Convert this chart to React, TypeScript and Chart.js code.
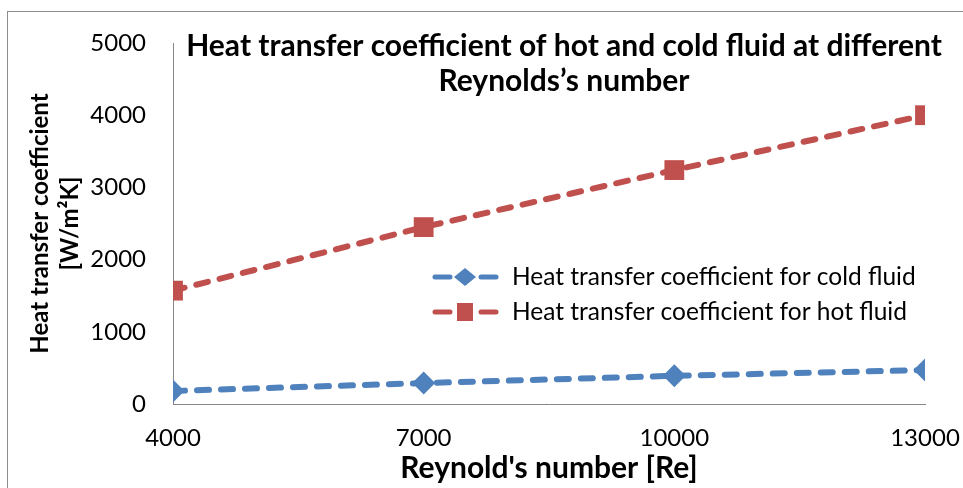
import React, { useEffect, useRef } from "react";
import { Chart, registerables } from "chart.js";

Chart.register(...registerables);

const reynolds = [4000, 7000, 10000, 13000];
const coldValues = [180, 290, 390, 470];
const hotValues = [1570, 2450, 3240, 4000];
const xTicks = [4000, 7000, 10000, 13000];
const yTicks = [0, 1000, 2000, 3000, 4000, 5000];
const seriesNames = [
  "Heat transfer coefficient for cold fluid",
  "Heat transfer coefficient for hot fluid",
];
const titleLines = [
  "Heat transfer coefficient of hot and cold fluid at different",
  "Reynolds\u2019s number",
];
const yTitle = ["Heat transfer coefficient", "[W/m\u00B2K]"];
const xTitle = "Reynold's number [Re]";

const BLUE = "#4F81BD";
const RED = "#C0504D";
const FONT = "Lato";

const overlayPlugin = {
  id: "overlay",
  afterDraw(chart: any) {
    const ctx = chart.ctx as CanvasRenderingContext2D;
    const area = chart.chartArea;
    ctx.save();
    // title
    ctx.fillStyle = "#000";
    ctx.font = `bold 30px ${FONT}`;
    ctx.textAlign = "center";
    ctx.textBaseline = "middle";
    const cx = 564;
    ctx.fillText(titleLines[0], cx, area.top + 3);
    ctx.fillText(titleLines[1], cx, area.top + 38);

    // legend
    const rows = [
      { name: seriesNames[0], color: BLUE, shape: "diamond" },
      { name: seriesNames[1], color: RED, shape: "square" },
    ];
    const lx = 433;
    rows.forEach((r, i) => {
      const y = 277 + i * 35;
      ctx.strokeStyle = r.color;
      ctx.lineWidth = 5;
      ctx.lineCap = "round";
      ctx.beginPath();
      ctx.moveTo(lx + 2, y);
      ctx.lineTo(lx + 17, y);
      ctx.moveTo(lx + 48, y);
      ctx.lineTo(lx + 63, y);
      ctx.stroke();
      ctx.fillStyle = r.color;
      const mx = lx + 32;
      ctx.beginPath();
      if (r.shape === "diamond") {
        ctx.moveTo(mx, y - 9);
        ctx.lineTo(mx + 11, y);
        ctx.lineTo(mx, y + 9);
        ctx.lineTo(mx - 11, y);
        ctx.closePath();
      } else {
        ctx.rect(mx - 8, y - 9, 16, 18);
      }
      ctx.fill();
      ctx.fillStyle = "#000";
      ctx.font = `24.5px ${FONT}`;
      ctx.textAlign = "left";
      ctx.textBaseline = "middle";
      ctx.fillText(r.name, 512, y);
    });
    ctx.restore();
  },
};

export default function App() {
  const canvasRef = useRef<HTMLCanvasElement | null>(null);

  useEffect(() => {
    if (!canvasRef.current) return;
    const chart = new Chart(canvasRef.current, {
      type: "line",
      data: {
        datasets: [
          {
            label: seriesNames[0],
            data: reynolds.map((x, i) => ({ x, y: coldValues[i] })),
            borderColor: BLUE,
            backgroundColor: BLUE,
            borderWidth: 6,
            borderDash: [12, 12],
            borderCapStyle: "round",
            pointStyle: "rectRot",
            pointRadius: 11.5,
            pointBorderWidth: 0,
            pointBackgroundColor: BLUE,
            fill: false,
            tension: 0,
          },
          {
            label: seriesNames[1],
            data: reynolds.map((x, i) => ({ x, y: hotValues[i] })),
            borderColor: RED,
            backgroundColor: RED,
            borderWidth: 6,
            borderDash: [12, 12],
            borderCapStyle: "round",
            pointStyle: "rect",
            pointRadius: 14,
            pointBorderWidth: 0,
            pointBackgroundColor: RED,
            fill: false,
            tension: 0,
          },
        ],
      },
      options: {
        animation: false,
        responsive: false,
        maintainAspectRatio: false,
        layout: { padding: { left: 0, top: 43, right: 38, bottom: 0 } },
        plugins: {
          legend: { display: false },
          title: { display: false },
          tooltip: { enabled: false },
        },
        scales: {
          x: {
            type: "linear",
            min: 4000,
            max: 13000,
            afterBuildTicks: (s: any) => {
              s.ticks = xTicks.map((v) => ({ value: v }));
            },
            afterFit: (s: any) => {
              s.height = 84;
              s.paddingLeft = 0;
              s.paddingRight = 0;
            },
            grid: { display: false, drawTicks: false },
            border: { display: true, color: "#868686", width: 1 },
            ticks: {
              color: "#000",
              font: { family: FONT, size: 24 },
              padding: 20,
              maxRotation: 0,
              autoSkip: false,
              callback: (v: any) => String(v),
            },
            title: {
              display: true,
              text: xTitle,
              color: "#000",
              font: { family: FONT, size: 30, weight: "bold", lineHeight: 1.2 },
              padding: { top: 0, bottom: 2 },
            },
          },
          y: {
            type: "linear",
            min: 0,
            max: 5000,
            afterBuildTicks: (s: any) => {
              s.ticks = yTicks.map((v) => ({ value: v }));
            },
            afterFit: (s: any) => {
              s.width = 173;
              s.paddingTop = 0;
              s.paddingBottom = 0;
            },
            grid: { display: false, drawTicks: false },
            border: { display: true, color: "#868686", width: 1 },
            ticks: {
              color: "#000",
              font: { family: FONT, size: 24 },
              padding: 27,
              callback: (v: any) => String(v),
            },
            title: {
              display: true,
              text: yTitle,
              color: "#000",
              font: { family: FONT, size: 24, weight: "bold", lineHeight: 1.25 },
              padding: { top: 25, bottom: 0 },
            },
          },
        },
      },
      plugins: [overlayPlugin],
    });
    return () => chart.destroy();
  }, []);

  return (
    <div style={{ position: "fixed", left: 0, top: 0, width: 963, height: 488, background: "#fff" }}>
      <div
        style={{
          position: "absolute",
          left: 7,
          top: 11,
          width: 960,
          height: 480,
          borderLeft: "1px solid #8c8c8c",
          borderTop: "1px solid #8c8c8c",
        }}
      />
      <canvas ref={canvasRef} width={963} height={488} style={{ position: "absolute", left: 0, top: 0 }} />
    </div>
  );
}
